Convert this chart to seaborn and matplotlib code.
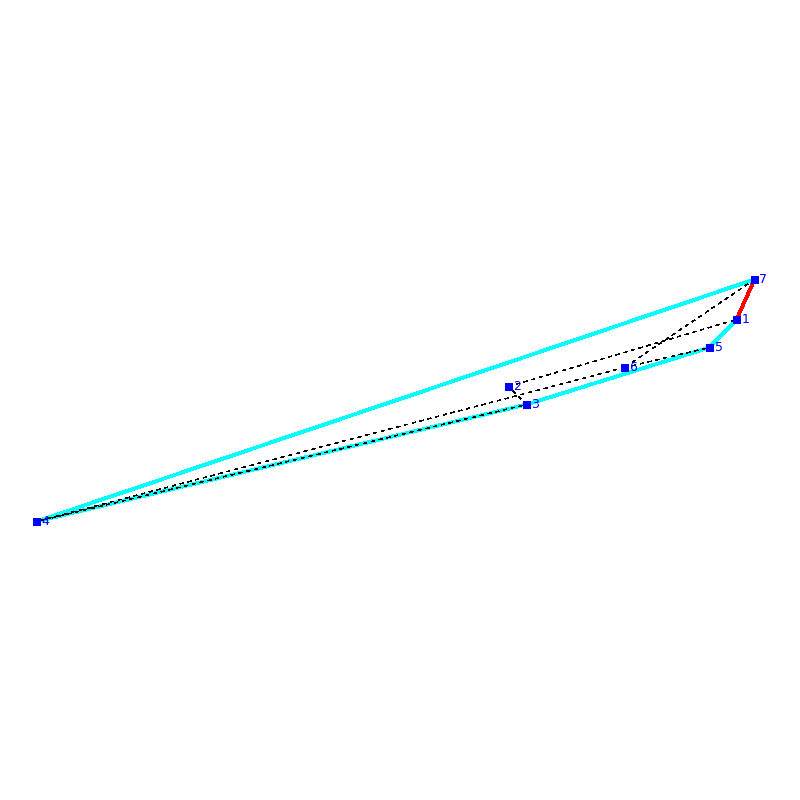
import matplotlib
matplotlib.use("Agg")
import matplotlib.pyplot as plt
import pandas as pd
import seaborn as sns

labels = ["1", "2", "3", "4", "5", "6", "7"]
xs = [736, 508, 526, 36, 709, 624, 754]
ys = [319, 386, 404, 521, 347, 367, 279]

hull_path = ["7", "4", "3", "5", "1"]
red_path = ["1", "7"]
dashed_edges = [("7", "6"), ("6", "5"), ("6", "4"), ("4", "3"), ("3", "2"), ("2", "1")]

sns.set_theme(style="white")
df = pd.DataFrame({"x": xs, "y": ys}, index=labels)

fig = plt.figure(figsize=(8, 8), dpi=100)
ax = fig.add_axes([0, 0, 1, 1])

for a, b in dashed_edges:
    seg = df.loc[[a, b]]
    sns.lineplot(data=seg, x="x", y="y", sort=False, estimator=None, ax=ax, color="black",
                 linewidth=0.35, linestyle=(0, (8, 9)), antialiased=False, zorder=3)

sns.lineplot(data=df.loc[hull_path], x="x", y="y", sort=False, estimator=None, ax=ax,
             color="#00ffff", linewidth=2.0, antialiased=False, zorder=2)
sns.lineplot(data=df.loc[red_path], x="x", y="y", sort=False, estimator=None, ax=ax,
             color="#ff0000", linewidth=2.0, antialiased=False, zorder=2)

sns.scatterplot(data=df, x="x", y="y", ax=ax, marker="s", s=30, color="#0000ff",
                linewidth=0, zorder=4)

for name, row in df.iterrows():
    ax.text(row["x"] + 5, row["y"], name, color="#0000ff", fontsize=9,
            family="DejaVu Sans", va="center", ha="left", zorder=5)

ax.set_xlim(-0.5, 799.5)
ax.set_ylim(799.5, -0.5)
ax.axis("off")
fig.savefig("out.png", dpi=100, facecolor="white")
